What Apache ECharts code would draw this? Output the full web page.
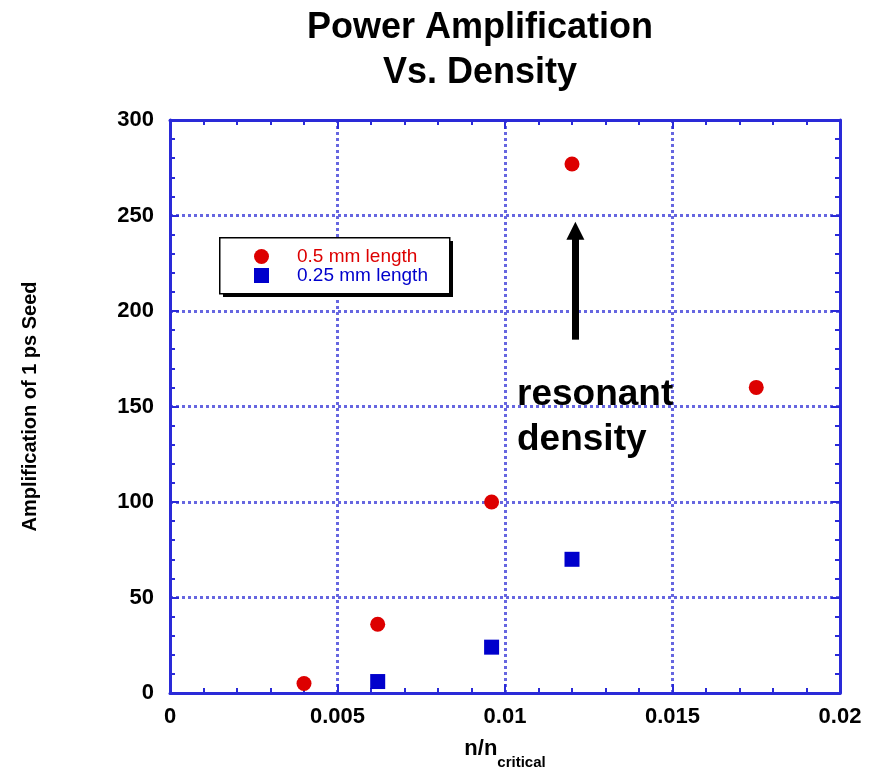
<!DOCTYPE html>
<html><head><meta charset="utf-8">
<script src="https://cdn.jsdelivr.net/npm/echarts@6/dist/echarts.min.js"></script>
<style>html,body{margin:0;padding:0;background:#fff}#c{width:873px;height:770px}</style>
</head><body><div id="c"></div>
<script>
const titleText = 'Power Amplification\nVs. Density';
const xTicks = [0, 0.005, 0.01, 0.015, 0.02];
const yTicks = [0, 50, 100, 150, 200, 250, 300];
const series1Name = '0.5 mm length';
const series1X = [0.0040, 0.0062, 0.0096, 0.0120, 0.0175];
const series1Y = [5, 36, 100, 277, 160];
const series2Name = '0.25 mm length';
const series2X = [0.0062, 0.0096, 0.0120];
const series2Y = [6, 24, 70];
const arrowX = 0.0121;
const arrowFromY = 185;
const arrowToY = 242;
const annotation = 'resonant\ndensity';

const FONT = '"Liberation Sans", Arial, Helvetica, sans-serif';
const gridColor = '#6666e0';
const axisColor = '#2a2ad8';
const chart = echarts.init(document.getElementById('c'), null, {renderer: 'canvas'});

function axisCommon() {
  return {
    axisLine: {show: true, onZero: false, lineStyle: {color: axisColor, width: 3}},
    axisTick: {show: true, inside: true, length: 9, lineStyle: {color: axisColor, width: 2}},
    minorTick: {show: true, splitNumber: 5, length: 5, lineStyle: {color: axisColor, width: 2}}
  };
}

chart.setOption({
  animation: false,
  backgroundColor: '#fff',
  title: {
    text: titleText, left: 475, top: 1, textAlign: 'center',
    textStyle: {fontFamily: FONT, fontSize: 36, fontWeight: 'bold', color: '#000', lineHeight: 45}
  },
  grid: {left: 170, right: 33, top: 120, bottom: 77, outerBoundsMode: 'none', containLabel: false},
  legend: {
    orient: 'vertical', left: 254, top: 247, z: 20,
    padding: 0, itemGap: 0, itemWidth: 15, itemHeight: 15,
    textStyle: {fontFamily: FONT, fontSize: 19, padding: [0, 0, 0, 23]},
    data: [
      {name: series1Name, icon: 'circle', textStyle: {color: '#dd0000'}},
      {name: series2Name, icon: 'rect', textStyle: {color: '#0000cc'}}
    ]
  },
  xAxis: [
    Object.assign(axisCommon(), {
      type: 'value', min: xTicks[0], max: xTicks[xTicks.length - 1], interval: 0.005,
      name: '{a|n/n}{b|critical}', nameLocation: 'middle', nameGap: 45,
      nameTextStyle: {rich: {
        a: {fontFamily: FONT, fontSize: 22, fontWeight: 'bold', color: '#000', lineHeight: 24, verticalAlign: 'top'},
        b: {fontFamily: FONT, fontSize: 15, fontWeight: 'bold', color: '#000', lineHeight: 15, verticalAlign: 'top', padding: [17, 0, 0, 0]}
      }},
      axisLabel: {fontFamily: FONT, fontSize: 22, fontWeight: 'bold', color: '#000', margin: 13,
        formatter: v => String(+v.toFixed(4))},
      splitLine: {show: true, lineStyle: {color: gridColor, width: 3, type: 'dotted'}}
    }),
    Object.assign(axisCommon(), {
      type: 'value', position: 'top', min: xTicks[0], max: xTicks[xTicks.length - 1], interval: 0.005,
      axisLabel: {show: false}, splitLine: {show: false}
    })
  ],
  yAxis: [
    Object.assign(axisCommon(), {
      type: 'value', min: yTicks[0], max: yTicks[yTicks.length - 1], interval: 50,
      name: 'Amplification of 1 ps Seed', nameLocation: 'middle', nameGap: 130, nameRotate: 90,
      nameTextStyle: {fontFamily: FONT, fontSize: 20, fontWeight: 'bold', color: '#000'},
      axisLabel: {fontFamily: FONT, fontSize: 22, fontWeight: 'bold', color: '#000', margin: 16},
      splitLine: {show: true, lineStyle: {color: gridColor, width: 3, type: 'dotted'}}
    }),
    Object.assign(axisCommon(), {
      type: 'value', position: 'right', min: yTicks[0], max: yTicks[yTicks.length - 1], interval: 50,
      axisLabel: {show: false}, splitLine: {show: false}
    })
  ],
  series: [
    {
      name: series1Name, type: 'scatter', symbol: 'circle', symbolSize: 15, z: 5,
      itemStyle: {color: '#dd0000', opacity: 1},
      data: series1X.map((x, i) => [x, series1Y[i]]),
      markLine: {
        silent: true, symbol: ['none', 'triangle'], symbolSize: [18, 18],
        lineStyle: {color: '#000', width: 7, type: 'solid'},
        label: {show: false},
        data: [[{coord: [arrowX, arrowFromY]}, {coord: [arrowX, arrowToY]}]]
      }
    },
    {
      name: series2Name, type: 'scatter', symbol: 'rect', symbolSize: 15, z: 5,
      itemStyle: {color: '#0000cc', opacity: 1},
      data: series2X.map((x, i) => [x, series2Y[i]])
    }
  ],
  graphic: [
    {type: 'rect', left: 223, top: 241, z: 10, shape: {width: 230, height: 56}, style: {fill: '#000'}},
    {type: 'rect', left: 219, top: 237, z: 11, shape: {width: 230, height: 56}, style: {fill: '#fff', stroke: '#000', lineWidth: 1.5}},
    {type: 'text', left: 517, top: 372, z: 10,
      style: {text: annotation, font: 'bold 37px ' + FONT, fill: '#000', lineHeight: 45}}
  ]
});
</script></body></html>
